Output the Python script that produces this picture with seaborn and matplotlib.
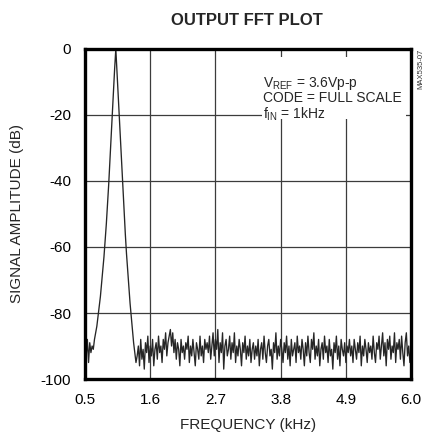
import numpy as np
import seaborn as sns
import matplotlib.pyplot as plt
from matplotlib.patches import Rectangle

# FFT magnitude (dB) at 0.02 kHz bins from 0.50 to 6.00 kHz
peak_db = [-90, -93, -88, -95, -89, -92, -90, -91, -88, -86,
           -84, -81, -78, -75, -71, -67, -63, -58, -53, -47,
           -41, -34, -27, -20, -13, -6, 0, -7, -14, -21,
           -28, -35, -42, -49, -56, -62, -67, -72, -77, -81,
           -85, -89, -92, -95]
noise_db = [-93, -90, -96, -88, -94, -91, -97, -89, -92, -87, -95, -90, -93, -88, -96, -91, -89, -94, -87, -92,
            -90, -95, -88, -91, -86, -93, -89, -87, -85, -90, -86, -92, -88, -94, -89, -91, -96, -88, -92, -90,
            -94, -89, -91, -87, -95, -90, -93, -88, -92, -96, -89, -91, -94, -87, -93, -90, -95, -88, -91, -89,
            -92, -87, -94, -90, -86, -93, -88, -91, -85, -95, -89, -92, -86, -97, -90, -88, -93, -91, -87, -94,
            -89, -92, -86, -95, -90, -93, -88, -91, -96, -89, -92, -87, -94, -90, -93, -88, -95, -91, -89, -94,
            -90, -93, -88, -96, -91, -89, -94, -87, -92, -95, -90, -88, -93, -91, -97, -89, -92, -86, -94, -90,
            -93, -88, -91, -95, -89, -92, -87, -94, -90, -96, -88, -93, -91, -89, -95, -87, -92, -90, -94, -88,
            -91, -96, -89, -93, -87, -92, -95, -88, -91, -86, -94, -90, -93, -88, -96, -91, -89, -94, -87, -92,
            -90, -95, -88, -93, -91, -97, -89, -92, -87, -94, -90, -96, -88, -91, -93, -89, -95, -90, -92, -88,
            -93, -90, -95, -88, -91, -94, -89, -92, -87, -96, -90, -93, -88, -91, -95, -89, -92, -90, -94, -87,
            -92, -95, -89, -91, -87, -94, -90, -86, -93, -89, -96, -88, -91, -87, -94, -90, -92, -86, -95, -89,
            -91, -88, -94, -87, -92, -96, -89, -86, -93, -90, -95, -91]
amp_db = peak_db + noise_db
freq_khz = np.linspace(0.5, 6.0, len(amp_db))

x_ticks = [0.5, 1.6, 2.7, 3.8, 4.9, 6.0]
y_ticks = [0, -20, -40, -60, -80, -100]

sns.set_style('white')
plt.rcParams['font.family'] = ['Liberation Sans', 'DejaVu Sans']
plt.rcParams['mathtext.fontset'] = 'custom'
plt.rcParams['mathtext.rm'] = 'Liberation Sans'

fig = plt.figure(figsize=(4.26, 4.36), dpi=100)
ax = fig.add_axes([0.1995, 0.1307, 0.7655, 0.757])

sns.lineplot(x=freq_khz, y=amp_db, ax=ax, color='#262626', lw=0.95, zorder=3)

ax.set_xlim(0.5, 6.0)
ax.set_ylim(-100, 0)
ax.set_xticks(x_ticks)
ax.set_xticklabels([f'{v:.1f}' for v in x_ticks])
ax.set_yticks(y_ticks)
ax.set_yticklabels([str(v) for v in y_ticks])
ax.tick_params(length=0, labelsize=11, colors='black')
ax.tick_params(axis='x', pad=10)
ax.tick_params(axis='y', pad=10)
ax.grid(True, color='#3c3c3c', lw=0.9)
ax.set_axisbelow(True)
for s in ax.spines.values():
    s.set_color('black')
    s.set_linewidth(2.4)
    s.set_zorder(5)

# white box behind the condition notes
ax.add_patch(Rectangle((0.543, 0.788), 0.442, 0.188, transform=ax.transAxes,
                       facecolor='white', edgecolor='none', zorder=2))
notes = [r'V$_{\mathrm{REF}}$ = 3.6Vp-p', 'CODE = FULL SCALE', r'f$_{\mathrm{IN}}$ = 1kHz']
for i, t in enumerate(notes):
    ax.text(0.546, 0.886 - i * 0.048, t, transform=ax.transAxes, fontsize=10,
            ha='left', va='baseline', zorder=4)

ax.set_xlabel('FREQUENCY (kHz)', fontsize=11, labelpad=8)
ax.set_ylabel('SIGNAL AMPLITUDE (dB)', fontsize=11, labelpad=12)
fig.text(0.58, 0.953, 'OUTPUT FFT PLOT', fontsize=12, fontweight='bold',
         ha='center', va='center')
fig.text(0.988, 0.842, 'MAX535-07', fontsize=5.5, rotation=90,
         ha='center', va='center', color='#333333')

fig.savefig('out.png', dpi=100)
